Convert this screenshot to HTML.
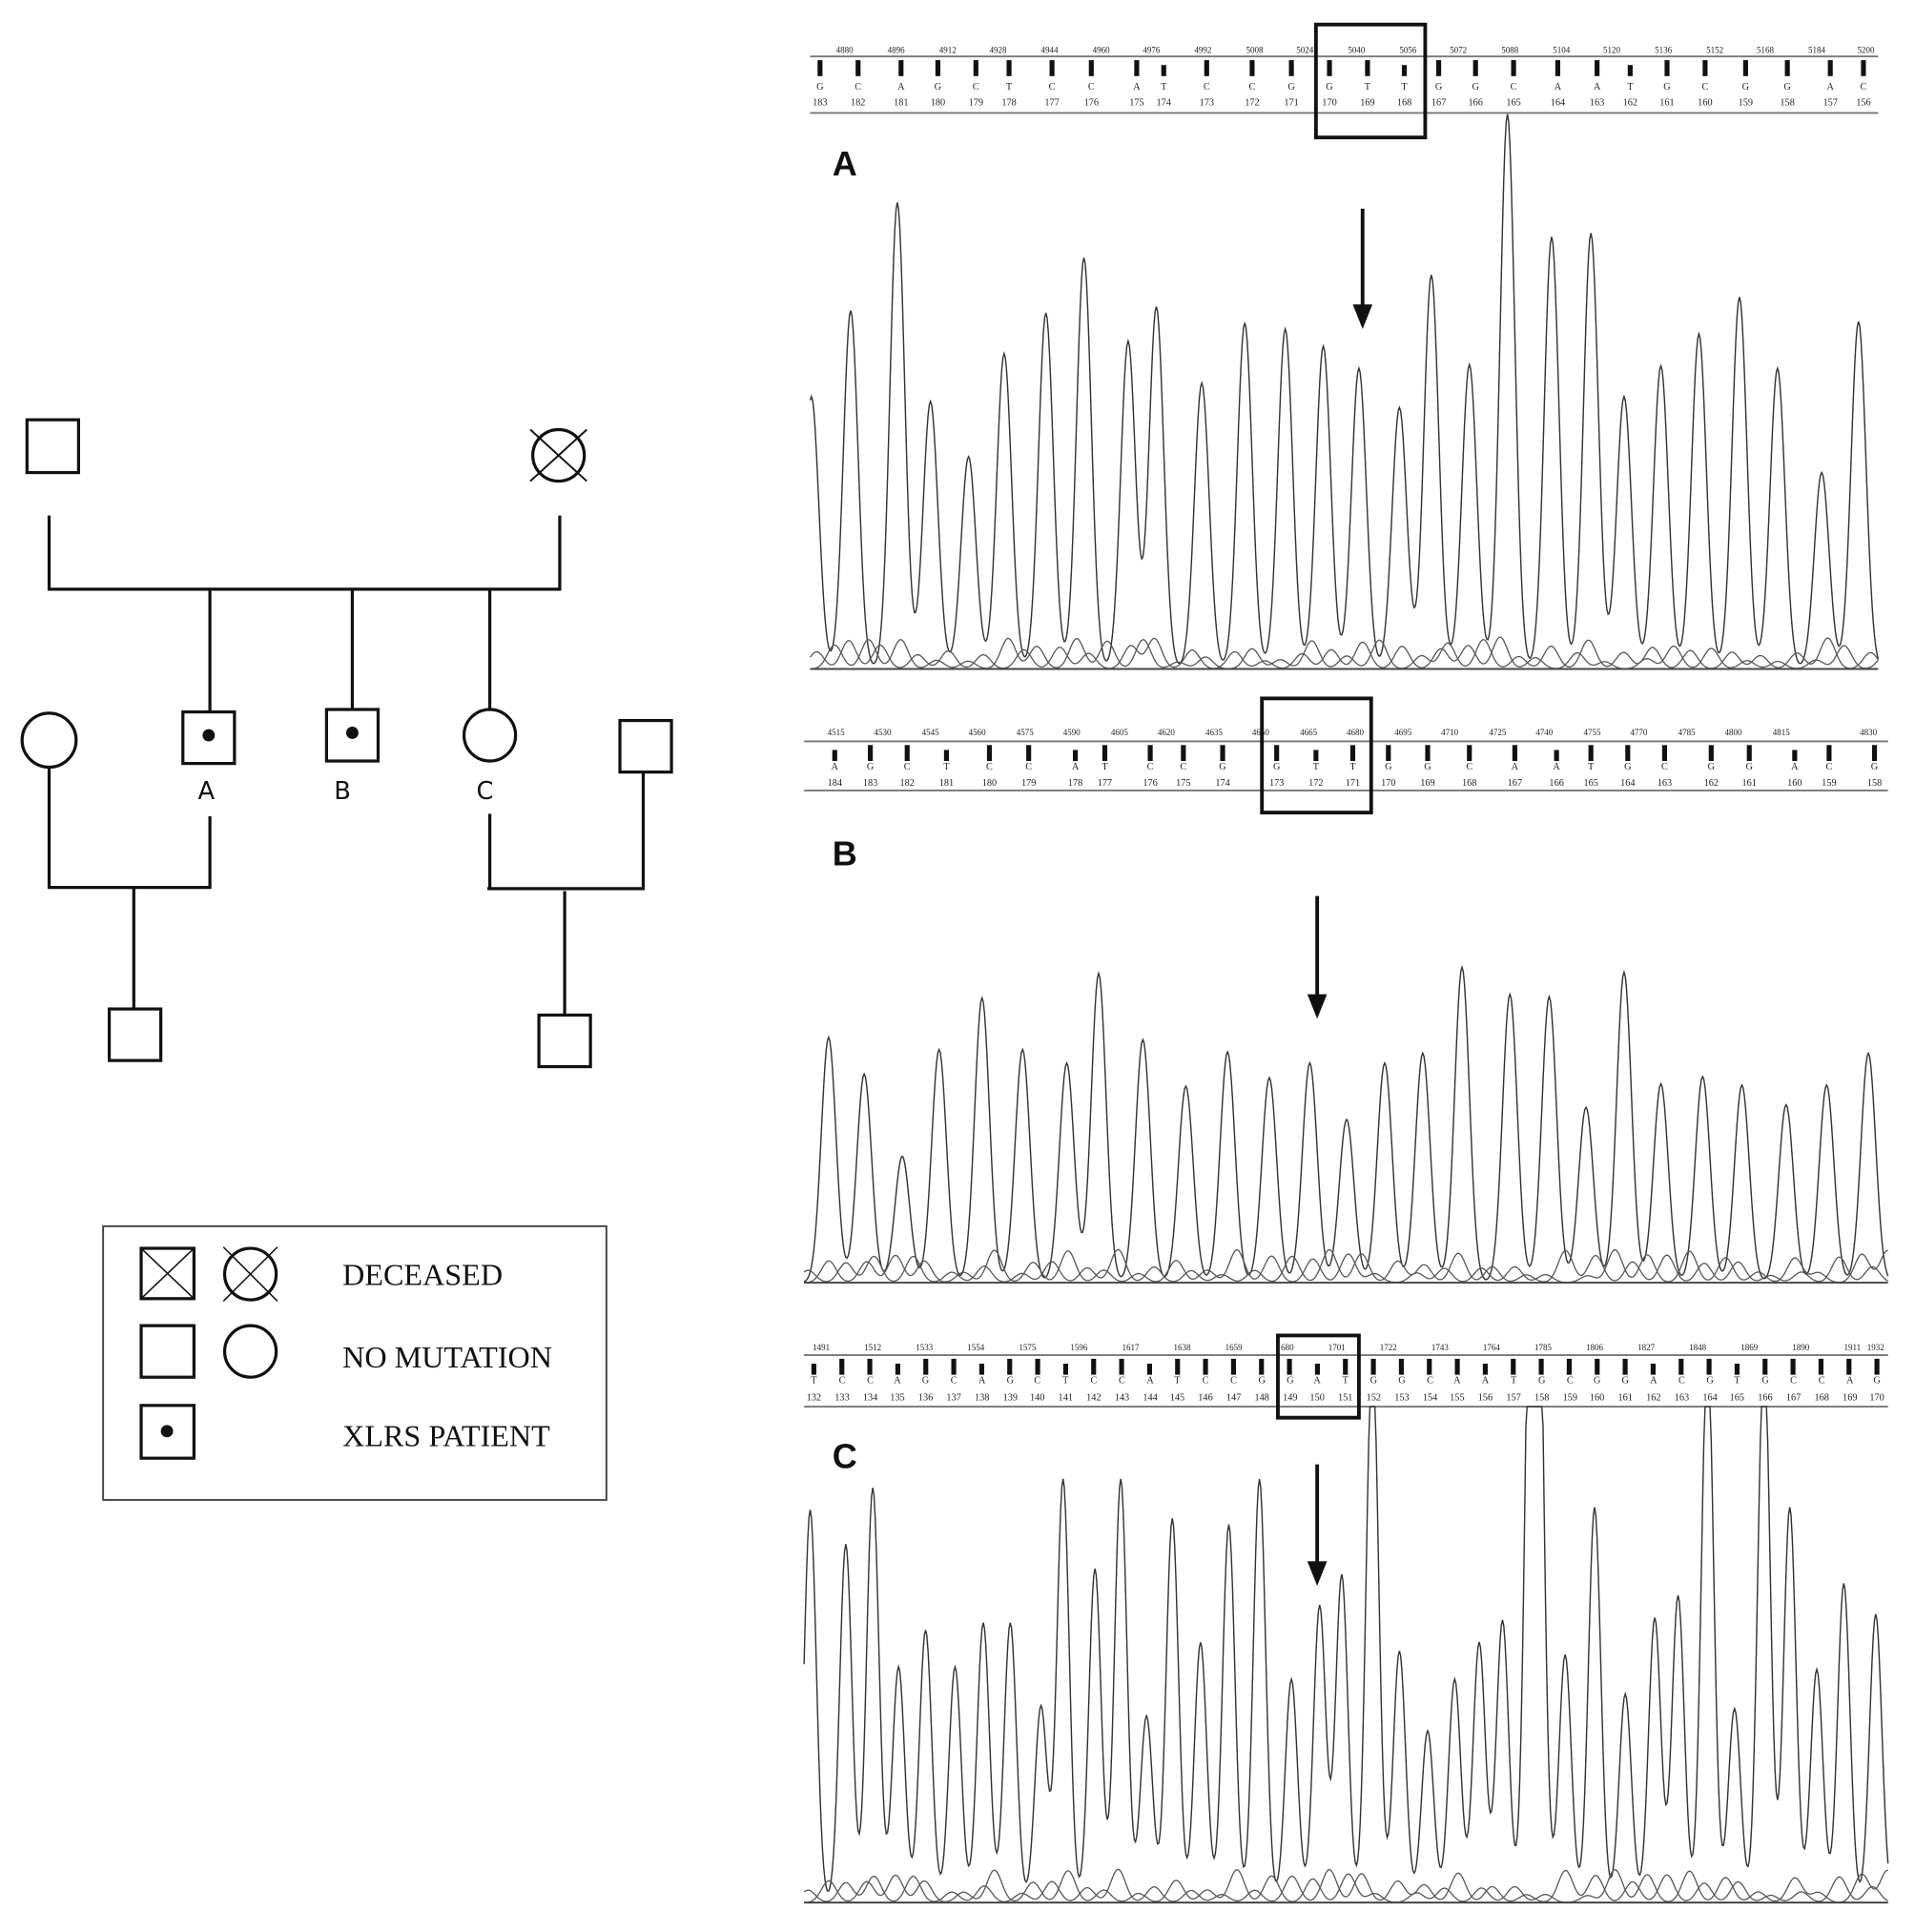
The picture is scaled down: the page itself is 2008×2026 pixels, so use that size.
<!DOCTYPE html>
<html><head><meta charset="utf-8"><style>
html,body{margin:0;padding:0;background:#fff;}
svg{display:block}
.t{font-family:"Liberation Serif",serif;font-size:7px;fill:#222;text-anchor:middle}
.u{font-family:"Liberation Serif",serif;font-size:8px;fill:#222;text-anchor:middle}
.lab{font-family:"Liberation Sans",sans-serif;font-weight:bold;font-size:28px;fill:#111}
.pl{font-family:"DejaVu Sans","Liberation Sans",sans-serif;font-size:20px;fill:#111;text-anchor:middle}
.lg{font-family:"Liberation Serif",serif;font-size:25px;fill:#111}
</style></head><body>
<svg id="s" width="2008" height="2026" viewBox="0 0 1560 1574" preserveAspectRatio="none" xmlns="http://www.w3.org/2000/svg">
<g stroke="#111" stroke-width="2.5" fill="none">
<rect x="22" y="342" width="42" height="43"/>
<circle cx="455" cy="371" r="21"/>
<line x1="40" y1="420" x2="40" y2="481"/><line x1="456" y1="420" x2="456" y2="481"/>
<line x1="39" y1="480" x2="457" y2="480"/>
<line x1="171" y1="480" x2="171" y2="580"/><line x1="287" y1="480" x2="287" y2="578"/><line x1="399" y1="480" x2="399" y2="578"/>
<circle cx="40" cy="603" r="22"/>
<rect x="149" y="580" width="42" height="42"/>
<rect x="266" y="578" width="42" height="42"/>
<circle cx="399" cy="599" r="21"/>
<rect x="505" y="587" width="42" height="42"/>
<line x1="40" y1="625" x2="40" y2="724"/><line x1="171" y1="665" x2="171" y2="724"/><line x1="39" y1="723" x2="172" y2="723"/>
<line x1="109" y1="723" x2="109" y2="822"/><rect x="89" y="822" width="42" height="42"/>
<line x1="399" y1="663" x2="399" y2="725"/><line x1="524" y1="629" x2="524" y2="725"/><line x1="397" y1="724" x2="525" y2="724"/>
<line x1="460" y1="726" x2="460" y2="827"/><rect x="439" y="827" width="42" height="42"/>
</g>
<g stroke="#111" stroke-width="1.5"><line x1="432" y1="350" x2="478" y2="392"/><line x1="478" y1="350" x2="432" y2="392"/></g>
<circle cx="170" cy="599" r="5" fill="#111"/><circle cx="287" cy="597" r="5" fill="#111"/>
<text class="pl" x="168" y="651">A</text><text class="pl" x="279" y="651">B</text><text class="pl" x="395" y="651">C</text>
<rect x="84" y="999" width="410" height="223" fill="none" stroke="#444" stroke-width="1.5"/>
<g stroke="#111" stroke-width="2.5" fill="none">
<rect x="115" y="1017" width="43" height="41"/><circle cx="204" cy="1038" r="21"/>
<rect x="115" y="1080" width="43" height="42"/><circle cx="204" cy="1101" r="21"/>
<rect x="115" y="1145" width="43" height="43"/>
</g>
<g stroke="#111" stroke-width="1.2"><line x1="116" y1="1018" x2="157" y2="1057"/><line x1="157" y1="1018" x2="116" y2="1057"/>
<line x1="182" y1="1016" x2="226" y2="1060"/><line x1="226" y1="1016" x2="182" y2="1060"/></g>
<circle cx="136" cy="1166" r="5" fill="#111"/>
<text class="lg" x="279" y="1047">DECEASED</text><text class="lg" x="279" y="1114">NO MUTATION</text><text class="lg" x="279" y="1178">XLRS PATIENT</text>

<text class="lab" x="678" y="143">A</text><text class="lab" x="678" y="705">B</text><text class="lab" x="678" y="1196">C</text>
<g stroke="#777" stroke-width="1.5">
<line x1="660" y1="46" x2="1530" y2="46"/><line x1="660" y1="92" x2="1530" y2="92"/>
<line x1="655" y1="604" x2="1538" y2="604"/><line x1="655" y1="644" x2="1538" y2="644"/>
<line x1="655" y1="1104" x2="1538" y2="1104"/><line x1="655" y1="1146" x2="1538" y2="1146"/>
</g>
<g stroke="#111" stroke-width="3" fill="none">
<rect x="1072" y="20" width="89" height="92"/><rect x="1028" y="569" width="89" height="93"/><rect x="1041" y="1088" width="66" height="67"/>
</g>
<g stroke="#111" stroke-width="3"><line x1="1110" y1="170" x2="1110" y2="252"/><line x1="1073" y1="730" x2="1073" y2="815"/><line x1="1073" y1="1193" x2="1073" y2="1277"/></g>
<g fill="#111"><polygon points="1102,248 1118,248 1110,268"/><polygon points="1065,810 1081,810 1073,830"/><polygon points="1065,1272 1081,1272 1073,1292"/></g>

<g>
<text class="t" x="688" y="43">4880</text><text class="t" x="730" y="43">4896</text><text class="t" x="772" y="43">4912</text><text class="t" x="813" y="43">4928</text><text class="t" x="855" y="43">4944</text><text class="t" x="897" y="43">4960</text><text class="t" x="938" y="43">4976</text><text class="t" x="980" y="43">4992</text><text class="t" x="1022" y="43">5008</text><text class="t" x="1063" y="43">5024</text><text class="t" x="1105" y="43">5040</text><text class="t" x="1147" y="43">5056</text><text class="t" x="1188" y="43">5072</text><text class="t" x="1230" y="43">5088</text><text class="t" x="1272" y="43">5104</text><text class="t" x="1313" y="43">5120</text><text class="t" x="1355" y="43">5136</text><text class="t" x="1397" y="43">5152</text><text class="t" x="1438" y="43">5168</text><text class="t" x="1480" y="43">5184</text><text class="t" x="1520" y="43">5200</text>
<text class="t" x="681" y="599">4515</text><text class="t" x="719" y="599">4530</text><text class="t" x="758" y="599">4545</text><text class="t" x="796" y="599">4560</text><text class="t" x="835" y="599">4575</text><text class="t" x="873" y="599">4590</text><text class="t" x="912" y="599">4605</text><text class="t" x="950" y="599">4620</text><text class="t" x="989" y="599">4635</text><text class="t" x="1027" y="599">4650</text><text class="t" x="1066" y="599">4665</text><text class="t" x="1104" y="599">4680</text><text class="t" x="1143" y="599">4695</text><text class="t" x="1181" y="599">4710</text><text class="t" x="1220" y="599">4725</text><text class="t" x="1258" y="599">4740</text><text class="t" x="1297" y="599">4755</text><text class="t" x="1335" y="599">4770</text><text class="t" x="1374" y="599">4785</text><text class="t" x="1412" y="599">4800</text><text class="t" x="1451" y="599">4815</text><text class="t" x="1522" y="599">4830</text>
<text class="t" x="669" y="1100">1491</text><text class="t" x="711" y="1100">1512</text><text class="t" x="753" y="1100">1533</text><text class="t" x="795" y="1100">1554</text><text class="t" x="837" y="1100">1575</text><text class="t" x="879" y="1100">1596</text><text class="t" x="921" y="1100">1617</text><text class="t" x="963" y="1100">1638</text><text class="t" x="1005" y="1100">1659</text><text class="t" x="1047" y="1100">1680</text><text class="t" x="1089" y="1100">1701</text><text class="t" x="1131" y="1100">1722</text><text class="t" x="1173" y="1100">1743</text><text class="t" x="1215" y="1100">1764</text><text class="t" x="1257" y="1100">1785</text><text class="t" x="1299" y="1100">1806</text><text class="t" x="1341" y="1100">1827</text><text class="t" x="1383" y="1100">1848</text><text class="t" x="1425" y="1100">1869</text><text class="t" x="1467" y="1100">1890</text><text class="t" x="1509" y="1100">1911</text><text class="t" x="1528" y="1100">1932</text>
</g>
<!-- Panel A letters/indices -->
<g>
<text class="u" x="668" y="73">G</text><text class="u" x="699" y="73">C</text><text class="u" x="734" y="73">A</text><text class="u" x="764" y="73">G</text><text class="u" x="795" y="73">C</text><text class="u" x="822" y="73">T</text><text class="u" x="857" y="73">C</text><text class="u" x="889" y="73">C</text><text class="u" x="926" y="73">A</text><text class="u" x="948" y="73">T</text><text class="u" x="983" y="73">C</text><text class="u" x="1020" y="73">C</text><text class="u" x="1052" y="73">G</text><text class="u" x="1083" y="73">G</text><text class="u" x="1114" y="73">T</text><text class="u" x="1144" y="73">T</text><text class="u" x="1172" y="73">G</text><text class="u" x="1202" y="73">G</text><text class="u" x="1233" y="73">C</text><text class="u" x="1269" y="73">A</text><text class="u" x="1301" y="73">A</text><text class="u" x="1328" y="73">T</text><text class="u" x="1358" y="73">G</text><text class="u" x="1389" y="73">C</text><text class="u" x="1422" y="73">G</text><text class="u" x="1456" y="73">G</text><text class="u" x="1491" y="73">A</text><text class="u" x="1518" y="73">C</text>
<text class="u" x="668" y="86">183</text><text class="u" x="699" y="86">182</text><text class="u" x="734" y="86">181</text><text class="u" x="764" y="86">180</text><text class="u" x="795" y="86">179</text><text class="u" x="822" y="86">178</text><text class="u" x="857" y="86">177</text><text class="u" x="889" y="86">176</text><text class="u" x="926" y="86">175</text><text class="u" x="948" y="86">174</text><text class="u" x="983" y="86">173</text><text class="u" x="1020" y="86">172</text><text class="u" x="1052" y="86">171</text><text class="u" x="1083" y="86">170</text><text class="u" x="1114" y="86">169</text><text class="u" x="1144" y="86">168</text><text class="u" x="1172" y="86">167</text><text class="u" x="1202" y="86">166</text><text class="u" x="1233" y="86">165</text><text class="u" x="1269" y="86">164</text><text class="u" x="1301" y="86">163</text><text class="u" x="1328" y="86">162</text><text class="u" x="1358" y="86">161</text><text class="u" x="1389" y="86">160</text><text class="u" x="1422" y="86">159</text><text class="u" x="1456" y="86">158</text><text class="u" x="1491" y="86">157</text><text class="u" x="1518" y="86">156</text>
</g>
<!-- Panel B -->
<g>
<text class="u" x="680" y="627">A</text><text class="u" x="709" y="627">G</text><text class="u" x="739" y="627">C</text><text class="u" x="771" y="627">T</text><text class="u" x="806" y="627">C</text><text class="u" x="838" y="627">C</text><text class="u" x="876" y="627">A</text><text class="u" x="900" y="627">T</text><text class="u" x="937" y="627">C</text><text class="u" x="964" y="627">C</text><text class="u" x="996" y="627">G</text><text class="u" x="1040" y="627">G</text><text class="u" x="1072" y="627">T</text><text class="u" x="1102" y="627">T</text><text class="u" x="1131" y="627">G</text><text class="u" x="1163" y="627">G</text><text class="u" x="1197" y="627">C</text><text class="u" x="1234" y="627">A</text><text class="u" x="1268" y="627">A</text><text class="u" x="1296" y="627">T</text><text class="u" x="1326" y="627">G</text><text class="u" x="1356" y="627">C</text><text class="u" x="1394" y="627">G</text><text class="u" x="1425" y="627">G</text><text class="u" x="1462" y="627">A</text><text class="u" x="1490" y="627">C</text><text class="u" x="1527" y="627">G</text>
<text class="u" x="680" y="640">184</text><text class="u" x="709" y="640">183</text><text class="u" x="739" y="640">182</text><text class="u" x="771" y="640">181</text><text class="u" x="806" y="640">180</text><text class="u" x="838" y="640">179</text><text class="u" x="876" y="640">178</text><text class="u" x="900" y="640">177</text><text class="u" x="937" y="640">176</text><text class="u" x="964" y="640">175</text><text class="u" x="996" y="640">174</text><text class="u" x="1040" y="640">173</text><text class="u" x="1072" y="640">172</text><text class="u" x="1102" y="640">171</text><text class="u" x="1131" y="640">170</text><text class="u" x="1163" y="640">169</text><text class="u" x="1197" y="640">168</text><text class="u" x="1234" y="640">167</text><text class="u" x="1268" y="640">166</text><text class="u" x="1296" y="640">165</text><text class="u" x="1326" y="640">164</text><text class="u" x="1356" y="640">163</text><text class="u" x="1394" y="640">162</text><text class="u" x="1425" y="640">161</text><text class="u" x="1462" y="640">160</text><text class="u" x="1490" y="640">159</text><text class="u" x="1527" y="640">158</text>
</g>
<!-- Panel C -->
<g>
<text class="u" x="663" y="1127">T</text><text class="u" x="686" y="1127">C</text><text class="u" x="709" y="1127">C</text><text class="u" x="731" y="1127">A</text><text class="u" x="754" y="1127">G</text><text class="u" x="777" y="1127">C</text><text class="u" x="800" y="1127">A</text><text class="u" x="823" y="1127">G</text><text class="u" x="845" y="1127">C</text><text class="u" x="868" y="1127">T</text><text class="u" x="891" y="1127">C</text><text class="u" x="914" y="1127">C</text><text class="u" x="937" y="1127">A</text><text class="u" x="959" y="1127">T</text><text class="u" x="982" y="1127">C</text><text class="u" x="1005" y="1127">C</text><text class="u" x="1028" y="1127">G</text><text class="u" x="1051" y="1127">G</text><text class="u" x="1073" y="1127">A</text><text class="u" x="1096" y="1127">T</text><text class="u" x="1119" y="1127">G</text><text class="u" x="1142" y="1127">G</text><text class="u" x="1165" y="1127">C</text><text class="u" x="1187" y="1127">A</text><text class="u" x="1210" y="1127">A</text><text class="u" x="1233" y="1127">T</text><text class="u" x="1256" y="1127">G</text><text class="u" x="1279" y="1127">C</text><text class="u" x="1301" y="1127">G</text><text class="u" x="1324" y="1127">G</text><text class="u" x="1347" y="1127">A</text><text class="u" x="1370" y="1127">C</text><text class="u" x="1393" y="1127">G</text><text class="u" x="1415" y="1127">T</text><text class="u" x="1438" y="1127">G</text><text class="u" x="1461" y="1127">C</text><text class="u" x="1484" y="1127">C</text><text class="u" x="1507" y="1127">A</text><text class="u" x="1529" y="1127">G</text>
<text class="u" x="663" y="1141">132</text><text class="u" x="686" y="1141">133</text><text class="u" x="709" y="1141">134</text><text class="u" x="731" y="1141">135</text><text class="u" x="754" y="1141">136</text><text class="u" x="777" y="1141">137</text><text class="u" x="800" y="1141">138</text><text class="u" x="823" y="1141">139</text><text class="u" x="845" y="1141">140</text><text class="u" x="868" y="1141">141</text><text class="u" x="891" y="1141">142</text><text class="u" x="914" y="1141">143</text><text class="u" x="937" y="1141">144</text><text class="u" x="959" y="1141">145</text><text class="u" x="982" y="1141">146</text><text class="u" x="1005" y="1141">147</text><text class="u" x="1028" y="1141">148</text><text class="u" x="1051" y="1141">149</text><text class="u" x="1073" y="1141">150</text><text class="u" x="1096" y="1141">151</text><text class="u" x="1119" y="1141">152</text><text class="u" x="1142" y="1141">153</text><text class="u" x="1165" y="1141">154</text><text class="u" x="1187" y="1141">155</text><text class="u" x="1210" y="1141">156</text><text class="u" x="1233" y="1141">157</text><text class="u" x="1256" y="1141">158</text><text class="u" x="1279" y="1141">159</text><text class="u" x="1301" y="1141">160</text><text class="u" x="1324" y="1141">161</text><text class="u" x="1347" y="1141">162</text><text class="u" x="1370" y="1141">163</text><text class="u" x="1393" y="1141">164</text><text class="u" x="1415" y="1141">165</text><text class="u" x="1438" y="1141">166</text><text class="u" x="1461" y="1141">167</text><text class="u" x="1484" y="1141">168</text><text class="u" x="1507" y="1141">169</text><text class="u" x="1529" y="1141">170</text>
</g>
<g id="gen"></g>
</svg>
<script>
var NS="http://www.w3.org/2000/svg",g=document.getElementById('gen');
function el(n,a){var e=document.createElementNS(NS,n);for(var k in a)e.setAttribute(k,a[k]);g.appendChild(e);return e;}
function ticks(xs,letters,yb){for(var i=0;i<xs.length;i++){var x=xs[i];var sh=(letters[i]=='A'||letters[i]=='T')&&i%3==0;el('rect',{x:x-2,y:yb+(sh?4:0),width:4,height:sh?9:13,fill:'#111'});}}
var A=[668,699,734,764,795,822,857,889,926,948,983,1020,1052,1083,1114,1144,1172,1202,1233,1269,1301,1328,1358,1389,1422,1456,1491,1518];
var B=[680,709,739,771,806,838,876,900,937,964,996,1040,1072,1102,1131,1163,1197,1234,1268,1296,1326,1356,1394,1425,1462,1490,1527];
var C=[];for(var i=0;i<39;i++)C.push(663+i*866/38);
ticks(A,"GCAGCTCCATCCGGTTGGCAATGCGGAC",49);
ticks(B,"AGCTCCATCCGGTTGGCAATGCGGACG",607);
ticks(C,"TCCAGCAGCTCCATCCGGATGGCAATGCGGACGTGCCAG",1107);
function peaks(P,base,s,x0,x1,top){var d='';for(var x=x0;x<=x1;x+=1){var y=0;for(var i=0;i<P.length;i++){var dx=x-P[i][0];y+=(base-P[i][1])*Math.exp(-dx*dx/(2*s*s));}var yy=Math.max(top,base-y);d+=(x==x0?'M':'L')+x+' '+yy.toFixed(1);}el('path',{d:d,fill:'none',stroke:'#333','stroke-width':1.1});
var seed=x0;function r(){seed=(seed*9301+49297)%233280;return seed/233280;}var sm=[];for(var x=x0;x<x1;x+=14)sm.push([x+r()*10,base-5-r()*22]);
for(var k=0;k<2;k++){var d2='';for(var x=x0;x<=x1;x+=1){var y=0;for(var i=k;i<sm.length;i+=2){var dx=x-sm[i][0];y+=(base-sm[i][1])*Math.exp(-dx*dx/(2*36));}d2+=(x==x0?'M':'L')+x+' '+(base-y).toFixed(1);}el('path',{d:d2,fill:'none',stroke:'#555','stroke-width':1});}
el('line',{x1:x0,y1:base,x2:x1,y2:base,stroke:'#444','stroke-width':1.5});}
peaks([[661,323],[693,253],[731,165],[758,327],[789,372],[818,288],[852,255],[883,210],[919,278],[942,250],[979,312],[1014,263],[1047,268],[1078,282],[1107,300],[1140,332],[1166,224],[1197,297],[1228,93],[1264,193],[1296,190],[1323,323],[1353,298],[1384,272],[1417,242],[1448,300],[1484,385],[1514,262]],545,6,660,1530,92);
peaks([[675,845],[704,875],[735,942],[765,855],[800,813],[833,855],[869,866],[895,793],[931,847],[966,885],[1000,857],[1034,878],[1067,866],[1097,912],[1128,866],[1159,858],[1191,788],[1230,810],[1262,812],[1292,902],[1323,792],[1353,883],[1387,877],[1419,884],[1455,900],[1488,884],[1522,858]],1045,6,655,1538,644);
peaks([[660,1230],[689,1258],[711,1212],[732,1358],[754,1328],[778,1358],[801,1322],[823,1322],[848,1390],[866,1205],[892,1278],[913,1205],[934,1398],[955,1237],[978,1338],[1001,1242],[1026,1205],[1052,1368],[1075,1308],[1093,1283],[1118,1100],[1140,1345],[1163,1410],[1185,1368],[1205,1338],[1224,1320],[1247,1100],[1253,1100],[1275,1348],[1299,1228],[1324,1380],[1348,1318],[1367,1300],[1391,1100],[1413,1392],[1437,1100],[1458,1228],[1480,1360],[1502,1290],[1528,1315]],1550,5,655,1538,1146);
</script>
</body></html>
